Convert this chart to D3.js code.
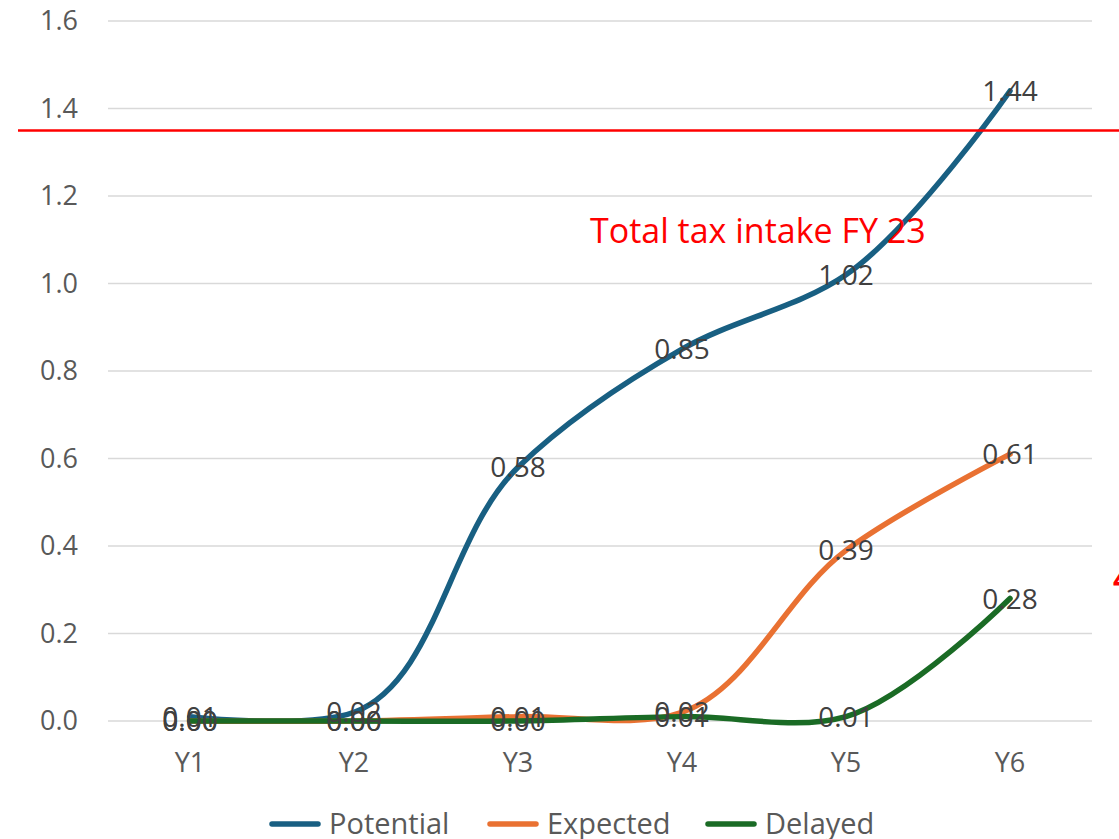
<!DOCTYPE html>
<html>
<head>
<meta charset="utf-8">
<script src="https://cdn.jsdelivr.net/npm/d3@7"></script>
<style>
  html, body { margin: 0; padding: 0; background: #fff; }
  svg { display: block; }
  text { font-family: "Open Sans", "Noto Sans", sans-serif; }
</style>
</head>
<body>
<svg id="chart" width="1119" height="839"></svg>
<script>
// Categories and series values
const categories = ["Y1", "Y2", "Y3", "Y4", "Y5", "Y6"];
const potential = [0.01, 0.02, 0.58, 0.85, 1.02, 1.44];
const expected  = [0.00, 0.00, 0.01, 0.02, 0.39, 0.61];
const delayed   = [0.00, 0.00, 0.00, 0.01, 0.01, 0.28];
const yTicks = [0.0, 0.2, 0.4, 0.6, 0.8, 1.0, 1.2, 1.4, 1.6];
const taxIntake = 1.35;
const taxLabel = "Total tax intake FY 23";

const seriesList = [
  { name: "Potential", values: potential, color: "#185f82" },
  { name: "Expected",  values: expected,  color: "#e97132" },
  { name: "Delayed",   values: delayed,   color: "#1a6b25" }
];

const svg = d3.select("#chart");
const plot = { left: 108, right: 1092, top: 21, bottom: 721 };

const x = d3.scaleBand().domain(categories).range([plot.left, plot.right]);
const y = d3.scaleLinear().domain([0, 1.6]).range([plot.bottom, plot.top]);
const cx = c => x(c) + x.bandwidth() / 2;

// Gridlines
svg.append("g").selectAll("line").data(yTicks).join("line")
  .attr("x1", plot.left).attr("x2", plot.right)
  .attr("y1", d => y(d)).attr("y2", d => y(d))
  .attr("stroke", "#d9d9d9").attr("stroke-width", 1.3);

// Y axis labels
const yAxis = d3.axisLeft(y).tickValues(yTicks).tickFormat(d3.format(".1f")).tickSize(0).tickPadding(0);
const gy = svg.append("g").attr("transform", "translate(78,0)").call(yAxis);
gy.select(".domain").remove();
gy.selectAll("text").attr("fill", "#595959").style("font-size", "27px")
  .style("font-family", "'Open Sans', sans-serif");

// X axis labels
const xAxis = d3.axisBottom(x).tickSize(0).tickPadding(0);
const gx = svg.append("g").attr("transform", "translate(0,753)").call(xAxis);
gx.select(".domain").remove();
gx.selectAll("text").attr("fill", "#595959").style("font-size", "27px")
  .style("font-family", "'Open Sans', sans-serif");

// Smoothed series lines
const line = d3.line()
  .x((d, i) => cx(categories[i]))
  .y(d => y(d))
  .curve(d3.curveCatmullRom.alpha(1));

seriesList.forEach(s => {
  svg.append("path")
    .datum(s.values)
    .attr("d", line)
    .attr("fill", "none")
    .attr("stroke", s.color)
    .attr("stroke-width", 5.5)
    .attr("stroke-linecap", "round")
    .attr("stroke-linejoin", "round");
});

// Data labels, centred on each point
seriesList.forEach(s => {
  svg.append("g").selectAll("text").data(s.values).join("text")
    .attr("x", (d, i) => cx(categories[i]))
    .attr("y", d => y(d))
    .attr("dy", "0.36em")
    .attr("text-anchor", "middle")
    .attr("fill", "#404040")
    .style("font-size", "28px")
    .text(d => d3.format(".2f")(d));
});

// Reference line for total tax intake
svg.append("line")
  .attr("x1", 18).attr("x2", 1119)
  .attr("y1", y(taxIntake)).attr("y2", y(taxIntake))
  .attr("stroke", "#ff0000").attr("stroke-width", 2.5);

svg.append("text")
  .attr("x", 590).attr("y", 231)
  .attr("dy", "0.36em")
  .attr("fill", "#ff0000")
  .style("font-size", "34px")
  .text(taxLabel);

// Annotation running off the right edge
svg.append("text")
  .attr("x", 1113).attr("y", 590)
  .attr("fill", "#ff0000")
  .style("font-size", "30px")
  .style("font-weight", "bold")
  .text("4");

// Legend
const legend = svg.append("g").attr("transform", "translate(0,824)");
const legendPos = [272, 490, 708];
seriesList.forEach((s, i) => {
  const g = legend.append("g").attr("transform", `translate(${legendPos[i]},0)`);
  g.append("line").attr("x1", 0).attr("x2", 46).attr("y1", 0).attr("y2", 0)
    .attr("stroke", s.color).attr("stroke-width", 5.5).attr("stroke-linecap", "round");
  g.append("text").attr("x", 57).attr("y", 0).attr("dy", "0.36em")
    .attr("fill", "#595959").style("font-size", "29px").text(s.name);
});
</script>
</body>
</html>
